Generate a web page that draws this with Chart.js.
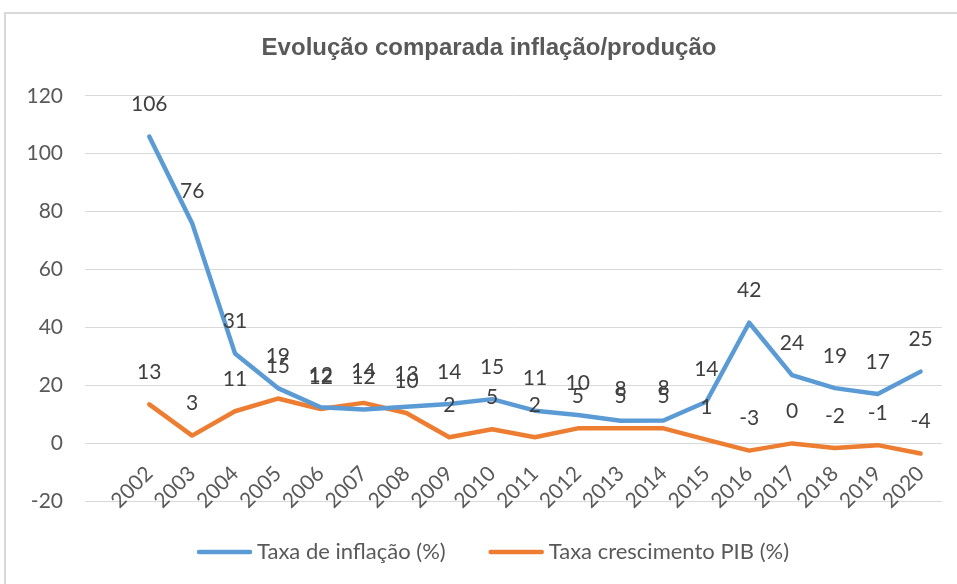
<!DOCTYPE html>
<html>
<head>
<meta charset="utf-8">
<script src="https://cdn.jsdelivr.net/npm/chart.js@4.4.1/dist/chart.umd.min.js"></script>
<style>
  html, body { margin: 0; padding: 0; background: #fff; }
  #frame { position: absolute; left: 4px; top: 12px; width: 1000px; height: 700px; border: 2px solid #d9d9d9; }
  #wrap { position: absolute; left: 0; top: 0; width: 957px; height: 584px; }
</style>
</head>
<body>
<div id="frame"></div>
<div id="wrap"><canvas id="myChart"></canvas></div>
<script>
// categorias (a primeira fica vazia, como na folha original)
const anos = ['', '2002', '2003', '2004', '2005', '2006', '2007', '2008', '2009', '2010',
  '2011', '2012', '2013', '2014', '2015', '2016', '2017', '2018', '2019', '2020'];
const inflacao = [null, 105.9, 76, 31, 19, 12.4, 11.6, 12.6, 13.5, 15.2,
  11.2, 9.7, 7.7, 7.8, 14.3, 41.6, 23.5, 19, 17, 24.7];
const pib = [null, 13.4, 2.6, 11, 15.4, 11.8, 13.9, 10.4, 2, 4.8,
  2, 5.1, 5.1, 5.1, 1.2, -2.6, -0.1, -1.7, -0.7, -3.6];
const eixoY = [-20, 0, 20, 40, 60, 80, 100, 120];

const cinza = '#595959';

// rotulos de dados por cima de cada ponto
const etiquetas = {
  id: 'etiquetas',
  afterDatasetsDraw(chart) {
    const ctx = chart.ctx;
    ctx.save();
    ctx.font = '21px Lato';
    ctx.fillStyle = '#404040';
    ctx.textAlign = 'center';
    ctx.textBaseline = 'middle';
    chart.data.datasets.forEach((ds, i) => {
      chart.getDatasetMeta(i).data.forEach((pt, j) => {
        const v = ds.data[j];
        if (v === null) return;
        ctx.fillText(String(Math.round(v) || 0), pt.x, pt.y - 32);
      });
    });
    ctx.restore();
  }
};

// legenda desenhada a mao para ter o espacamento do Excel
const legenda = {
  id: 'legenda',
  afterLayout(chart) {
    // o titulo do Excel fica um pouco a direita do centro do canvas
    if (chart.titleBlock) chart.titleBlock.left = 36;
  },
  afterDraw(chart) {
    const ctx = chart.ctx;
    ctx.save();
    ctx.font = '22px Lato';
    ctx.textBaseline = 'middle';
    const y = 552, amostra = 55, gap = 5, entre = 43;
    const itens = chart.data.datasets.map(ds => ({ txt: ds.label, cor: ds.borderColor, w: ctx.measureText(ds.label).width }));
    const total = itens.reduce((s, it) => s + amostra + gap + it.w, 0) + entre * (itens.length - 1);
    let x = 493 - total / 2;
    itens.forEach(it => {
      ctx.strokeStyle = it.cor;
      ctx.lineWidth = 4.5;
      ctx.lineCap = 'round';
      ctx.beginPath();
      ctx.moveTo(x + 2, y);
      ctx.lineTo(x + amostra - 2, y);
      ctx.stroke();
      ctx.fillStyle = cinza;
      ctx.fillText(it.txt, x + amostra + gap, y);
      x += amostra + gap + it.w + entre;
    });
    ctx.restore();
  }
};

const ctx = document.getElementById('myChart').getContext('2d');
const grafico = new Chart(ctx, {
  type: 'line',
  data: {
    labels: anos,
    datasets: [{
      label: 'Taxa de inflação (%)',
      data: inflacao,
      borderColor: '#5B9BD5',
      backgroundColor: '#5B9BD5',
      borderWidth: 4.5,
      pointRadius: 0,
      borderCapStyle: 'round',
      borderJoinStyle: 'round',
      tension: 0
    }, {
      label: 'Taxa crescimento PIB (%)',
      data: pib,
      borderColor: '#ED7D31',
      backgroundColor: '#ED7D31',
      borderWidth: 4.5,
      pointRadius: 0,
      borderCapStyle: 'round',
      borderJoinStyle: 'round',
      tension: 0
    }]
  },
  options: {
    responsive: true,
    maintainAspectRatio: false,
    animation: false,
    layout: { padding: { left: 0, right: 15, top: 0, bottom: 83 } },
    plugins: {
      legend: { display: false },
      tooltip: { enabled: false },
      title: {
        display: true,
        text: 'Evolução comparada inflação/produção',
        color: cinza,
        font: { family: 'Liberation Sans', size: 24, weight: 'bold', lineHeight: 1.2 },
        padding: { top: 34, bottom: 33 }
      }
    },
    scales: {
      x: {
        position: { y: 0 },
        offset: true,
        grid: { display: false },
        border: { display: false },
        ticks: {
          color: cinza,
          font: { family: 'Lato', size: 21 },
          autoSkip: false,
          maxRotation: 45,
          minRotation: 45,
          padding: 10
        }
      },
      y: {
        min: -20,
        max: 120,
        afterFit: s => { s.width = 85; },
        afterBuildTicks: s => { s.ticks = eixoY.map(v => ({ value: v })); },
        grid: { color: '#d9d9d9', lineWidth: 1, drawTicks: false },
        border: { display: false },
        ticks: {
          color: cinza,
          font: { family: 'Lato', size: 21 },
          padding: 22
        }
      }
    }
  },
  plugins: [etiquetas, legenda]
});
</script>
</body>
</html>
